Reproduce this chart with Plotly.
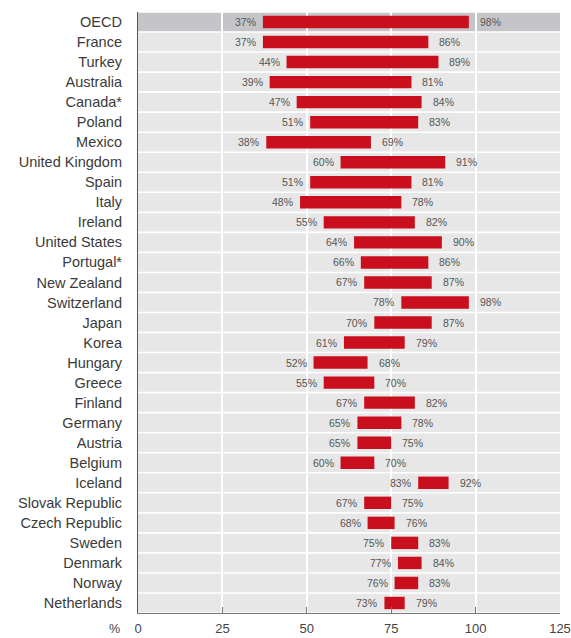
import plotly.graph_objects as go

countries = ["OECD", "France", "Turkey", "Australia", "Canada*", "Poland", "Mexico",
             "United Kingdom", "Spain", "Italy", "Ireland", "United States", "Portugal*",
             "New Zealand", "Switzerland", "Japan", "Korea", "Hungary", "Greece", "Finland",
             "Germany", "Austria", "Belgium", "Iceland", "Slovak Republic", "Czech Republic",
             "Sweden", "Denmark", "Norway", "Netherlands"]
low = [37, 37, 44, 39, 47, 51, 38, 60, 51, 48, 55, 64, 66, 67, 78, 70, 61, 52, 55, 67,
       65, 65, 60, 83, 67, 68, 75, 77, 76, 73]
high = [98, 86, 89, 81, 84, 83, 69, 91, 81, 78, 82, 90, 86, 87, 98, 87, 79, 68, 70, 82,
        78, 75, 70, 92, 75, 76, 83, 84, 83, 79]
x_ticks = [0, 25, 50, 75, 100, 125]

FONT = "Liberation Sans, Arial, sans-serif"
RED = "#c90f1d"

fig = go.Figure()

fig.add_trace(go.Bar(
    y=countries,
    x=[h - l for l, h in zip(low, high)],
    base=low,
    orientation="h",
    width=0.62,
    marker=dict(color=RED, line=dict(width=0)),
    hoverinfo="skip",
))

# row stripes, drawn beneath the white gridlines
shapes = []
for i, c in enumerate(countries):
    shapes.append(dict(
        type="rect", xref="x", yref="y", layer="below",
        x0=0, x1=x_ticks[-1], y0=i - 0.46, y1=i + 0.46,
        fillcolor="#c5c5c9" if c == "OECD" else "#e7e7e7",
        line=dict(width=0),
    ))

annotations = []
for c, l, h in zip(countries, low, high):
    annotations.append(dict(
        x=l, y=c, text=f"{l}%", showarrow=False, xanchor="right", xshift=-5,
        font=dict(family=FONT, size=10.5, color="#555555"),
    ))
    annotations.append(dict(
        x=h, y=c, text=f"{h}%", showarrow=False, xanchor="left", xshift=9,
        font=dict(family=FONT, size=10.5, color="#555555"),
    ))
annotations.append(dict(
    x=0, y=0, xref="paper", yref="paper", text="%", showarrow=False,
    xanchor="right", yanchor="middle", xshift=-16, yshift=-16,
    font=dict(family=FONT, size=12.5, color="#444444"),
))

fig.update_layout(
    width=571, height=638,
    margin=dict(l=138, r=11, t=12, b=25),
    paper_bgcolor="white",
    plot_bgcolor="white",
    showlegend=False,
    shapes=shapes,
    annotations=annotations,
    font=dict(family=FONT, color="#333333"),
    xaxis=dict(
        range=[0, 125], tickvals=x_ticks, ticktext=[str(v) for v in x_ticks],
        showgrid=True, gridcolor="white", gridwidth=1.5,
        zeroline=False, showline=True, linecolor="#777777", linewidth=1,
        ticks="inside", ticklen=6, tickcolor="#777777", ticklabelstandoff=3,
        tickfont=dict(family=FONT, size=13, color="#444444"),
        automargin=False, fixedrange=True,
    ),
    yaxis=dict(
        categoryorder="array", categoryarray=countries, autorange="reversed",
        showgrid=False, zeroline=False, showline=True, linecolor="#555555", linewidth=1.2,
        ticks="", ticklabelstandoff=12,
        tickfont=dict(family=FONT, size=14.5, color="#3a3a3a"),
        automargin=False, fixedrange=True,
    ),
)

fig.write_html("out.html")
